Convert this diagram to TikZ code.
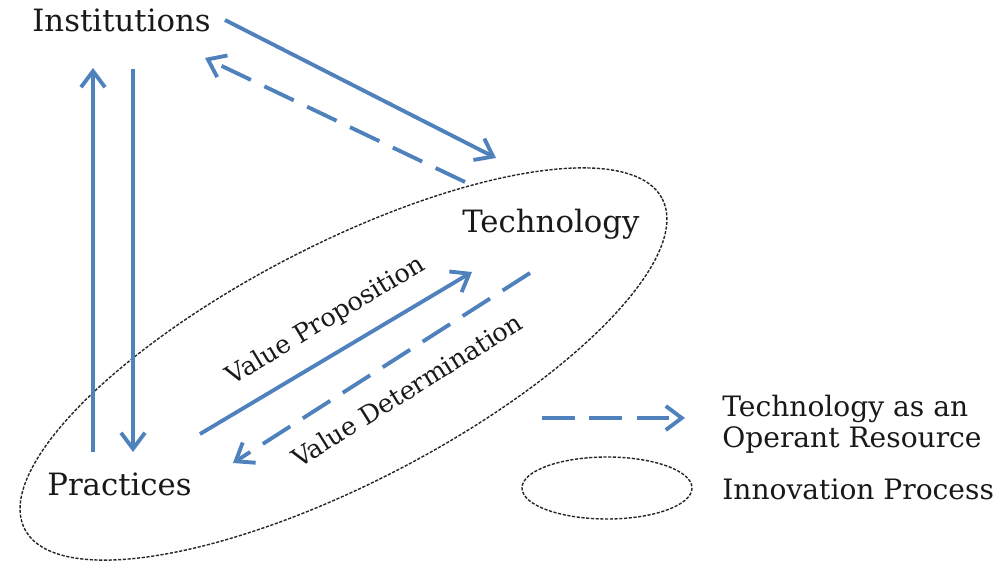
\documentclass[tikz,border=0pt]{standalone}
\usepackage{fontspec}
\setmainfont{DejaVu Serif}
\usetikzlibrary{arrows.meta}

\definecolor{flowblue}{RGB}{79,129,189}
\tikzstyle{term} = [font=\fontsize{17.5}{19}\selectfont, text=black!90]
\tikzstyle{keyterm} = [font=\fontsize{16}{17.6}\selectfont, text=black!90]
\tikzstyle{smallterm} = [font=\fontsize{14.5}{16}\selectfont, text=black!90]
\tikzstyle{flow} = [draw=flowblue, line width=2.2pt, -{Straight Barb[length=3.2mm,width=4.8mm]}]
\tikzstyle{operant} = [flow, dash pattern=on 18.5pt off 8.5pt]
\tikzstyle{process} = [draw=black!85, line width=0.8pt, dash pattern=on 1.8pt off 0.9pt]

\begin{document}
\begin{tikzpicture}[x=0.02cm, y=-0.02cm, every node/.style={inner sep=0pt}]
  \useasboundingbox (0,0) rectangle (998,564);
  % the three actors
  \node[term, anchor=base west] (inst) at (32,32) {Institutions};
  \node[term, anchor=base west] (tech) at (462,233) {Technology};
  \node[term, anchor=base west] (prac) at (47,495) {Practices};
  % innovation process
  \draw[process, rotate around={27.4:(343.5,364)}] (343.5,364) ellipse [x radius=359, y radius=119];
  % arrow ends
  \coordinate (i0) at (225,20);   \coordinate (t0) at (496,158);
  \coordinate (t1) at (465,182);  \coordinate (i1) at (205,58);
  \coordinate (p0) at (93,452);   \coordinate (i2) at (93,68);
  \coordinate (i3) at (133,69);   \coordinate (p1) at (133,452);
  \coordinate (p2) at (200,434);  \coordinate (t2) at (472,272);
  \coordinate (t3) at (530,273);  \coordinate (p3) at (233,463);
  \draw[flow] (i0) -- (t0);
  \draw[operant] (t1) -- (i1);
  \draw[flow] (p0) -- (i2);
  \draw[flow] (i3) -- (p1);
  \draw[flow] (p2) -- (t2);
  \draw[operant] (t3) -- (p3);
  \node[smallterm, rotate=31] (vp) at (326,321) {Value Proposition};
  \node[smallterm, rotate=32] (vd) at (407,390) {Value Determination};
  % key
  \coordinate (k0) at (542,418);  \coordinate (k1) at (685,418);
  \draw[operant] (k0) -- (k1);
  \node[keyterm, anchor=north west, align=left] (res) at (722,395) {Technology as an\\Operant Resource};
  \draw[process] (607,488) ellipse [x radius=85, y radius=31];
  \node[keyterm, anchor=base west] (proc) at (722,500) {Innovation Process};
\end{tikzpicture}
\end{document}
